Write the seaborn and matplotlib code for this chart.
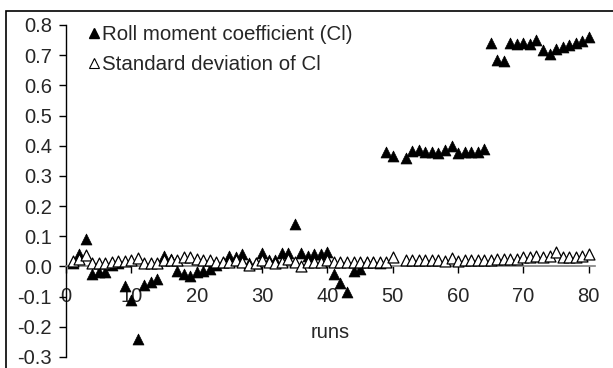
import numpy as np
import pandas as pd
import matplotlib
matplotlib.use("Agg")
import matplotlib.pyplot as plt
from matplotlib.lines import Line2D
from matplotlib.patches import Rectangle
import seaborn as sns

runs = list(range(1, 81))
ci = [0.01, 0.04, 0.09, -0.025, -0.02, -0.02, 0.005, 0.01, -0.065, -0.11,
      -0.24, -0.06, -0.05, -0.04, 0.035, 0.025, -0.015, -0.025, -0.03, -0.02,
      -0.015, -0.01, 0.005, 0.015, 0.035, 0.03, 0.04, 0.012, 0.012, 0.045,
      0.02, 0.02, 0.045, 0.045, 0.142, 0.043, 0.035, 0.04, 0.04, 0.048,
      -0.024, -0.055, -0.085, -0.015, -0.01, 0.015, 0.015, 0.01, 0.38, 0.365,
      np.nan, 0.36, 0.383, 0.385, 0.38, 0.38, 0.375, 0.385, 0.40, 0.375,
      0.38, 0.38, 0.38, 0.388, 0.74, 0.685, 0.68, 0.74, 0.737, 0.741,
      0.737, 0.75, 0.717, 0.704, 0.72, 0.728, 0.734, 0.741, 0.748, 0.759]
ci_std = [0.017, 0.025, 0.037, 0.013, 0.013, 0.013, 0.015, 0.017, 0.017, 0.02,
          0.028, 0.013, 0.013, 0.013, 0.02, 0.02, 0.02, 0.03, 0.031, 0.026,
          0.02, 0.02, 0.015, 0.015, 0.015, 0.02, 0.015, 0.005, 0.01, 0.02,
          0.015, 0.01, 0.015, 0.025, 0.015, 0.003, 0.015, 0.015, 0.015, 0.02,
          0.015, 0.015, 0.015, 0.015, 0.015, 0.015, 0.015, 0.015, 0.015, 0.03,
          np.nan, 0.023, 0.023, 0.022, 0.022, 0.022, 0.02, 0.017, 0.028, 0.018,
          0.02, 0.022, 0.022, 0.023, 0.023, 0.024, 0.024, 0.025, 0.025, 0.03,
          0.032, 0.035, 0.032, 0.035, 0.048, 0.032, 0.032, 0.032, 0.035, 0.04]

label_ci = "Roll moment coefficient (Cl)"
label_std = "Standard deviation of Cl"
x_ticks = [0, 10, 20, 30, 40, 50, 60, 70, 80]
y_ticks = [-0.3, -0.2, -0.1, 0.0, 0.1, 0.2, 0.3, 0.4, 0.5, 0.6, 0.7, 0.8]

df = pd.DataFrame({"run": runs, "ci": ci, "std": ci_std})

sns.set_style("white")
plt.rcParams["font.family"] = ["Liberation Sans", "DejaVu Sans"]
plt.rcParams["font.size"] = 14

W, H = 613, 368
fig = plt.figure(figsize=(W / 100, H / 100), dpi=100)
ax = fig.add_axes([66 / W, 1 - 357 / H, (595.3 - 66) / W, (357 - 25) / H])

ms = 62
sns.scatterplot(data=df, x="run", y="ci", marker="^", s=ms, color="black",
                edgecolor="black", linewidth=0.5, ax=ax, zorder=3)
sns.scatterplot(data=df, x="run", y="std", marker="^", s=ms, color="white",
                edgecolor="black", linewidth=0.9, ax=ax, zorder=4)

ax.set_xlim(0, 81)
ax.set_ylim(-0.3, 0.8)
ax.set_xticks(x_ticks)
ax.set_yticks(y_ticks)
ax.set_xticklabels([str(v) for v in x_ticks])
ax.set_yticklabels([f"{v:.1f}" for v in y_ticks])

for s in ["top", "right"]:
    ax.spines[s].set_visible(False)
ax.spines["bottom"].set_position(("data", 0))
ax.spines["bottom"].set_color("#808080")
ax.spines["bottom"].set_linewidth(1.2)
ax.spines["left"].set_color("black")
ax.spines["left"].set_linewidth(1.0)
ax.tick_params(axis="x", bottom=True, direction="out", length=5, width=1,
               color="black", pad=10, labelsize=14.5)
ax.tick_params(axis="y", left=True, direction="out", length=5, width=1,
               color="black", pad=5, labelsize=14.5)
ax.set_xlabel("runs", fontsize=14.5)
ax.set_ylabel("")
ax.xaxis.set_label_coords(0.5, 0.075)
ax.xaxis.label.set_verticalalignment("center")

handles = [
    Line2D([], [], marker="^", linestyle="none", markersize=6.5,
           markerfacecolor="black", markeredgecolor="black"),
    Line2D([], [], marker="^", linestyle="none", markersize=6.5,
           markerfacecolor="white", markeredgecolor="black", markeredgewidth=0.8),
]
ax.legend(handles, [label_ci, label_std], loc="upper left",
          bbox_to_anchor=(88 / W, 1 - 25 / H), bbox_transform=fig.transFigure,
          frameon=False, fontsize=14.8, handlelength=0.6, handletextpad=0.1,
          labelspacing=0.55, borderpad=0, borderaxespad=0)

fig.patches.append(Rectangle((6 / W, -0.05), 1.1, (368 - 11) / H + 0.05,
                             transform=fig.transFigure, fill=False,
                             edgecolor="black", linewidth=1.2))

fig.savefig("out.png", dpi=100)
